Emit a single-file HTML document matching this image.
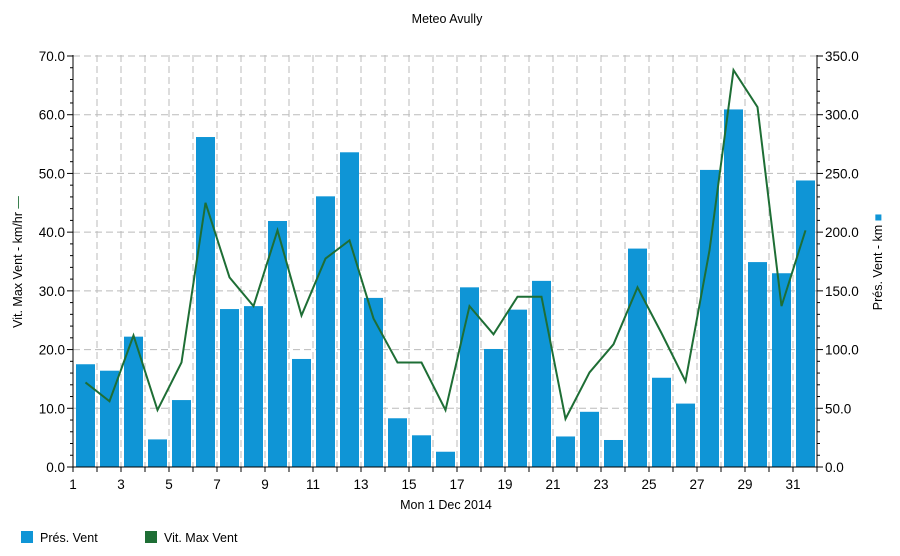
<!DOCTYPE html>
<html><head><meta charset="utf-8"><style>body{margin:0;background:#fff}svg{display:block}text{font-family:"Liberation Sans",sans-serif;fill:#000}</style></head><body>
<svg width="900" height="556" xmlns="http://www.w3.org/2000/svg">
<text x="447" y="23" font-size="12.5" text-anchor="middle">Meteo  Avully</text>
<g id="g"></g>
<text x="22" y="262" font-size="12.5" text-anchor="middle" transform="rotate(-90 22 262)">Vit. Max Vent - km/hr <tspan fill="#1e6e35">—</tspan></text>
<text x="882" y="262" font-size="12.5" text-anchor="middle" transform="rotate(-90 882 262)">Prés. Vent - km <tspan fill="#0f95d6">■</tspan></text>
<text x="446" y="509" font-size="12.5" text-anchor="middle">Mon 1 Dec 2014</text>
<rect x="21" y="531" width="12" height="12" fill="#0f95d6"/><text x="40" y="542" font-size="12.5">Prés. Vent</text>
<rect x="145" y="531" width="12" height="12" fill="#1e6e35"/><text x="164" y="542" font-size="12.5">Vit. Max Vent</text>
</svg>
<script>
var ns="http://www.w3.org/2000/svg",g=document.getElementById("g");
function el(t,a,txt){var e=document.createElementNS(ns,t);for(var k in a)e.setAttribute(k,a[k]);if(txt!=null)e.textContent=txt;g.appendChild(e);return e;}
var X0=73,DX=24,Y0=467,S=411/70;
function y(v){return Y0-v*S;}
for(var i=1;i<=31;i++)el("line",{x1:X0+i*DX,x2:X0+i*DX,y1:55,y2:Y0,stroke:"#bbb","stroke-dasharray":"7,4"});
for(var v=10;v<=70;v+=10)el("line",{x1:X0,x2:817,y1:y(v),y2:y(v),stroke:"#bbb","stroke-dasharray":"7,4"});
var bars=[17.5,16.4,22.2,4.7,11.4,56.2,26.9,27.4,41.9,18.4,46.1,53.6,28.8,8.3,5.4,2.6,30.6,20.1,26.8,31.7,5.2,9.4,4.6,37.2,15.2,10.8,50.6,60.9,34.9,33.0,48.8];
var line=[14.4,11.2,22.4,9.7,17.8,45,32.3,27.4,40.3,25.8,35.5,38.6,25.3,17.8,17.8,9.7,27.4,22.6,29,29,8.2,16.1,20.9,30.6,22.8,14.6,36.9,67.6,61.3,27.4,40.3];
bars.forEach(function(b,i){el("rect",{x:X0+i*DX+3,y:y(b),width:19,height:b*S,fill:"#0f95d6"});});
el("polyline",{points:line.map(function(v,i){return (X0+i*DX+12.5)+","+y(v)}).join(" "),fill:"none",stroke:"#1e6e35","stroke-width":2});
el("line",{x1:X0,x2:X0,y1:55,y2:Y0,stroke:"#000"});el("line",{x1:817,x2:817,y1:55,y2:Y0,stroke:"#000"});
el("line",{x1:X0,x2:817,y1:Y0,y2:Y0,stroke:"#000"});
for(var v=0;v<=70;v+=2){var L=v%10==0?6:3;el("line",{x1:X0-L,x2:X0,y1:y(v),y2:y(v),stroke:"#000"});el("line",{x1:817,x2:817+L,y1:y(v),y2:y(v),stroke:"#000"});}
for(var v=0;v<=70;v+=10){el("text",{x:X0-8,y:y(v)+5,"font-size":13.5,"text-anchor":"end"},v.toFixed(1));el("text",{x:825,y:y(v)+5,"font-size":13.5},(v*5).toFixed(1));}
for(var i=0;i<=31;i++){el("line",{x1:X0+i*DX,x2:X0+i*DX,y1:Y0,y2:Y0+5,stroke:"#000"});if(i%2==0)el("text",{x:X0+i*DX,y:Y0+22,"font-size":13.5,"text-anchor":"middle"},i+1);}
</script>
</body></html>
